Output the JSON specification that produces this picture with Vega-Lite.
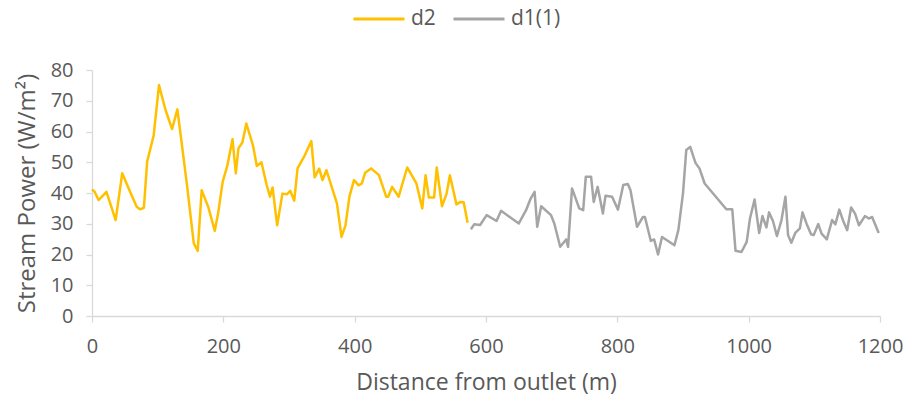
{
  "$schema": "https://vega.github.io/schema/vega-lite/v6.json",
  "width": 788,
  "height": 246,
  "autosize": {"type": "none"},
  "padding": {"left": 92, "top": 70, "right": 29, "bottom": 86},
  "background": "white",
  "config": {
    "view": {"stroke": null},
    "font": "Open Sans, sans-serif"
  },
  "data": {
    "values": [
      {"d": 0, "p": 41.2, "s": "d2"}, {"d": 4, "p": 40.4, "s": "d2"}, {"d": 10, "p": 37.7, "s": "d2"}, {"d": 22, "p": 40.4, "s": "d2"},
      {"d": 36, "p": 31.2, "s": "d2"}, {"d": 46, "p": 46.4, "s": "d2"}, {"d": 57, "p": 40.9, "s": "d2"}, {"d": 68, "p": 35.5, "s": "d2"},
      {"d": 73, "p": 34.7, "s": "d2"}, {"d": 79, "p": 35.2, "s": "d2"}, {"d": 84, "p": 50.2, "s": "d2"}, {"d": 94, "p": 58.8, "s": "d2"},
      {"d": 102, "p": 75.1, "s": "d2"}, {"d": 112, "p": 67, "s": "d2"}, {"d": 122, "p": 60.8, "s": "d2"}, {"d": 130, "p": 67.2, "s": "d2"},
      {"d": 136, "p": 57.2, "s": "d2"}, {"d": 145, "p": 42, "s": "d2"}, {"d": 155, "p": 23.6, "s": "d2"}, {"d": 161, "p": 21.2, "s": "d2"},
      {"d": 167, "p": 40.9, "s": "d2"}, {"d": 177, "p": 35.5, "s": "d2"}, {"d": 187, "p": 27.7, "s": "d2"}, {"d": 192, "p": 33.3, "s": "d2"},
      {"d": 199, "p": 43.6, "s": "d2"}, {"d": 206, "p": 48.8, "s": "d2"}, {"d": 214, "p": 57.5, "s": "d2"}, {"d": 219, "p": 46.4, "s": "d2"},
      {"d": 223, "p": 54.5, "s": "d2"}, {"d": 229, "p": 56.4, "s": "d2"}, {"d": 235, "p": 62.6, "s": "d2"}, {"d": 245, "p": 55.6, "s": "d2"},
      {"d": 251, "p": 48.8, "s": "d2"}, {"d": 258, "p": 50, "s": "d2"}, {"d": 266, "p": 42.6, "s": "d2"}, {"d": 271, "p": 38.8, "s": "d2"},
      {"d": 275, "p": 41.8, "s": "d2"}, {"d": 282, "p": 29.5, "s": "d2"}, {"d": 290, "p": 39.8, "s": "d2"}, {"d": 297, "p": 39.6, "s": "d2"},
      {"d": 302, "p": 40.7, "s": "d2"}, {"d": 308, "p": 37.5, "s": "d2"}, {"d": 313, "p": 48, "s": "d2"}, {"d": 323, "p": 51.8, "s": "d2"},
      {"d": 334, "p": 56.9, "s": "d2"}, {"d": 339, "p": 45.1, "s": "d2"}, {"d": 346, "p": 47.9, "s": "d2"}, {"d": 351, "p": 44.2, "s": "d2"},
      {"d": 357, "p": 47.4, "s": "d2"}, {"d": 365, "p": 42, "s": "d2"}, {"d": 373, "p": 36.6, "s": "d2"}, {"d": 380, "p": 25.7, "s": "d2"},
      {"d": 386, "p": 29.5, "s": "d2"}, {"d": 392, "p": 38.8, "s": "d2"}, {"d": 399, "p": 44.2, "s": "d2"}, {"d": 406, "p": 42.5, "s": "d2"},
      {"d": 411, "p": 43.1, "s": "d2"}, {"d": 416, "p": 46.6, "s": "d2"}, {"d": 425, "p": 48, "s": "d2"}, {"d": 437, "p": 45.8, "s": "d2"},
      {"d": 448, "p": 38.8, "s": "d2"}, {"d": 451, "p": 38.8, "s": "d2"}, {"d": 457, "p": 42, "s": "d2"}, {"d": 467, "p": 38.8, "s": "d2"},
      {"d": 480, "p": 48.3, "s": "d2"}, {"d": 494, "p": 43.1, "s": "d2"}, {"d": 503, "p": 35, "s": "d2"}, {"d": 508, "p": 45.8, "s": "d2"},
      {"d": 513, "p": 38.5, "s": "d2"}, {"d": 521, "p": 38.5, "s": "d2"}, {"d": 525, "p": 48.3, "s": "d2"}, {"d": 533, "p": 35.7, "s": "d2"},
      {"d": 540, "p": 39.8, "s": "d2"}, {"d": 545, "p": 45.8, "s": "d2"}, {"d": 555, "p": 36.3, "s": "d2"}, {"d": 561, "p": 37.1, "s": "d2"},
      {"d": 566, "p": 37, "s": "d2"}, {"d": 572, "p": 30.3, "s": "d2"},
      {"d": 577, "p": 28.2, "s": "d1(1)"}, {"d": 582, "p": 29.8, "s": "d1(1)"}, {"d": 591, "p": 29.6, "s": "d1(1)"}, {"d": 601, "p": 32.8, "s": "d1(1)"},
      {"d": 616, "p": 30.9, "s": "d1(1)"}, {"d": 623, "p": 34.2, "s": "d1(1)"}, {"d": 650, "p": 30.1, "s": "d1(1)"}, {"d": 661, "p": 34.4, "s": "d1(1)"},
      {"d": 668, "p": 38.2, "s": "d1(1)"}, {"d": 674, "p": 40.4, "s": "d1(1)"}, {"d": 678, "p": 29, "s": "d1(1)"}, {"d": 684, "p": 35.7, "s": "d1(1)"},
      {"d": 699, "p": 32.8, "s": "d1(1)"}, {"d": 704, "p": 30.1, "s": "d1(1)"}, {"d": 713, "p": 22.5, "s": "d1(1)"}, {"d": 722, "p": 24.9, "s": "d1(1)"},
      {"d": 725, "p": 22.5, "s": "d1(1)"}, {"d": 731, "p": 41.5, "s": "d1(1)"}, {"d": 742, "p": 35, "s": "d1(1)"}, {"d": 748, "p": 34.4, "s": "d1(1)"},
      {"d": 752, "p": 45.3, "s": "d1(1)"}, {"d": 760, "p": 45.3, "s": "d1(1)"}, {"d": 764, "p": 37.1, "s": "d1(1)"}, {"d": 770, "p": 42, "s": "d1(1)"},
      {"d": 778, "p": 33.3, "s": "d1(1)"}, {"d": 782, "p": 39.1, "s": "d1(1)"}, {"d": 792, "p": 38.8, "s": "d1(1)"}, {"d": 801, "p": 34.6, "s": "d1(1)"},
      {"d": 809, "p": 42.6, "s": "d1(1)"}, {"d": 816, "p": 42.9, "s": "d1(1)"}, {"d": 820, "p": 40.9, "s": "d1(1)"}, {"d": 830, "p": 29, "s": "d1(1)"},
      {"d": 839, "p": 32.2, "s": "d1(1)"}, {"d": 842, "p": 32.2, "s": "d1(1)"}, {"d": 851, "p": 24.4, "s": "d1(1)"}, {"d": 856, "p": 24.9, "s": "d1(1)"},
      {"d": 862, "p": 20, "s": "d1(1)"}, {"d": 868, "p": 25.7, "s": "d1(1)"}, {"d": 887, "p": 23, "s": "d1(1)"}, {"d": 893, "p": 28, "s": "d1(1)"},
      {"d": 900, "p": 39.9, "s": "d1(1)"}, {"d": 905, "p": 54, "s": "d1(1)"}, {"d": 911, "p": 55, "s": "d1(1)"}, {"d": 919, "p": 49.8, "s": "d1(1)"},
      {"d": 925, "p": 48, "s": "d1(1)"}, {"d": 933, "p": 43.1, "s": "d1(1)"}, {"d": 966, "p": 34.7, "s": "d1(1)"}, {"d": 975, "p": 34.7, "s": "d1(1)"},
      {"d": 980, "p": 21.2, "s": "d1(1)"}, {"d": 989, "p": 20.8, "s": "d1(1)"}, {"d": 997, "p": 24.1, "s": "d1(1)"}, {"d": 1002, "p": 31.7, "s": "d1(1)"},
      {"d": 1009, "p": 37.9, "s": "d1(1)"}, {"d": 1016, "p": 27, "s": "d1(1)"}, {"d": 1021, "p": 32.5, "s": "d1(1)"}, {"d": 1027, "p": 28.8, "s": "d1(1)"},
      {"d": 1031, "p": 33.7, "s": "d1(1)"}, {"d": 1037, "p": 30.9, "s": "d1(1)"}, {"d": 1043, "p": 26, "s": "d1(1)"}, {"d": 1050, "p": 31.2, "s": "d1(1)"},
      {"d": 1056, "p": 38.8, "s": "d1(1)"}, {"d": 1060, "p": 26.3, "s": "d1(1)"}, {"d": 1065, "p": 23.8, "s": "d1(1)"}, {"d": 1071, "p": 27, "s": "d1(1)"},
      {"d": 1078, "p": 28.5, "s": "d1(1)"}, {"d": 1082, "p": 33.7, "s": "d1(1)"}, {"d": 1088, "p": 30.1, "s": "d1(1)"}, {"d": 1095, "p": 26.6, "s": "d1(1)"},
      {"d": 1099, "p": 26.3, "s": "d1(1)"}, {"d": 1106, "p": 29.9, "s": "d1(1)"}, {"d": 1111, "p": 26.8, "s": "d1(1)"}, {"d": 1119, "p": 24.9, "s": "d1(1)"},
      {"d": 1127, "p": 31.2, "s": "d1(1)"}, {"d": 1132, "p": 29.8, "s": "d1(1)"}, {"d": 1138, "p": 34.6, "s": "d1(1)"}, {"d": 1144, "p": 30.9, "s": "d1(1)"},
      {"d": 1150, "p": 27.9, "s": "d1(1)"}, {"d": 1156, "p": 35.3, "s": "d1(1)"}, {"d": 1162, "p": 33.3, "s": "d1(1)"}, {"d": 1168, "p": 29.5, "s": "d1(1)"},
      {"d": 1177, "p": 32.5, "s": "d1(1)"}, {"d": 1183, "p": 31.7, "s": "d1(1)"}, {"d": 1188, "p": 32.2, "s": "d1(1)"}, {"d": 1198, "p": 27, "s": "d1(1)"}
    ]
  },
  "mark": {"type": "line", "strokeWidth": 2.5, "strokeJoin": "round"},
  "encoding": {
    "x": {
      "field": "d", "type": "quantitative",
      "scale": {"domain": [0, 1200], "nice": false, "zero": false},
      "axis": {
        "title": "Distance from outlet (m)",
        "values": [0, 200, 400, 600, 800, 1000, 1200],
        "format": "d",
        "labelFlush": false,
        "grid": false,
        "domainColor": "#d9d9d9", "domainWidth": 1.3,
        "tickColor": "#d9d9d9", "tickSize": 6, "tickWidth": 1.3,
        "labelColor": "#595959", "labelFontSize": 20, "labelPadding": 14,
        "titleColor": "#595959", "titleFontSize": 23, "titleFontWeight": "normal", "titlePadding": 15
      }
    },
    "y": {
      "field": "p", "type": "quantitative",
      "scale": {"domain": [0, 80], "nice": false},
      "axis": {
        "title": "Stream Power (W/m²)",
        "values": [0, 10, 20, 30, 40, 50, 60, 70, 80],
        "labelFlush": false,
        "grid": false,
        "domainColor": "#d9d9d9", "domainWidth": 1.3,
        "tickColor": "#d9d9d9", "tickSize": 6, "tickWidth": 1.3,
        "labelColor": "#595959", "labelFontSize": 20, "labelPadding": 13,
        "titleColor": "#595959", "titleFontSize": 24, "titleFontWeight": "normal", "titlePadding": 11
      }
    },
    "color": {
      "field": "s", "type": "nominal",
      "scale": {"domain": ["d2", "d1(1)"], "range": ["#FFC000", "#A5A5A5"]},
      "legend": {
        "title": null,
        "orient": "none",
        "direction": "horizontal",
        "legendX": 260,
        "legendY": -78,
        "symbolType": "stroke",
        "symbolSize": 2600,
        "symbolStrokeWidth": 3,
        "labelFontSize": 21,
        "labelColor": "#595959",
        "labelOffset": 5,
        "columnPadding": 11
      }
    }
  }
}
